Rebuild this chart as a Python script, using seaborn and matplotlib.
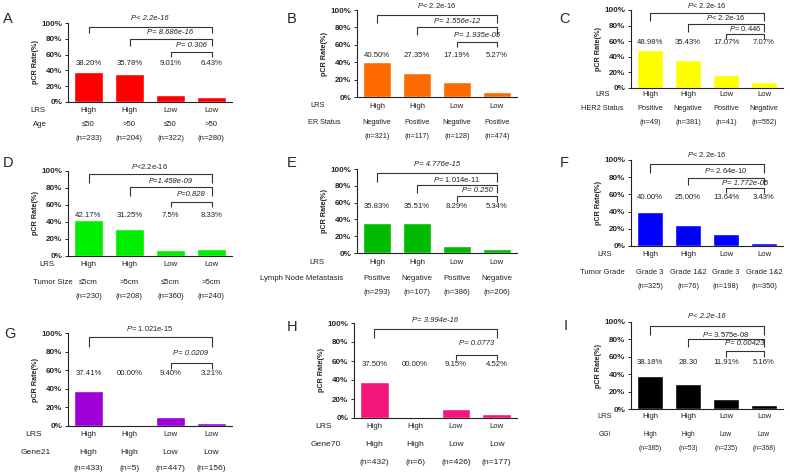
import matplotlib
matplotlib.use("Agg")
import matplotlib.pyplot as plt
import seaborn as sns
import pandas as pd

# ---- data ----
lrs = ["High", "High", "Low", "Low"]

age_rate = [38.20, 35.78, 9.01, 6.43]
age_text = ["38.20%", "35.78%", "9.01%", "6.43%"]
age_group = ["≤50", ">50", "≤50", ">50"]
age_n = ["(n=233)", "(n=204)", "(n=322)", "(n=280)"]
age_p = ["P< 2.2e-16", "P= 8.686e-16", "P= 0.306"]

er_rate = [40.50, 27.35, 17.19, 5.27]
er_text = ["40.50%", "27.35%", "17.19%", "5.27%"]
er_group = ["Negative", "Positive", "Negative", "Positive"]
er_n = ["(n=321)", "(n=117)", "(n=128)", "(n=474)"]
er_p = ["P< 2.2e-16", "P= 1.556e-12", "P= 1.935e-05"]

her2_rate = [48.98, 35.43, 17.07, 7.07]
her2_text = ["48.98%", "35.43%", "17.07%", "7.07%"]
her2_group = ["Positive", "Negative", "Positive", "Negative"]
her2_n = ["(n=49)", "(n=381)", "(n=41)", "(n=552)"]
her2_p = ["P< 2.2e-16", "P< 2.2e-16", "P= 0.446"]

size_rate = [42.17, 31.25, 7.5, 8.33]
size_text = ["42.17%", "31.25%", "7.5%", "8.33%"]
size_group = ["≤5cm", ">5cm", "≤5cm", ">5cm"]
size_n = ["(n=230)", "(n=208)", "(n=360)", "(n=240)"]
size_p = ["P<2.2e-16", "P=1.458e-09", "P=0.828"]

lnm_rate = [35.83, 35.51, 8.29, 5.34]
lnm_text = ["35.83%", "35.51%", "8.29%", "5.34%"]
lnm_group = ["Positive", "Negative", "Positive", "Negative"]
lnm_n = ["(n=293)", "(n=107)", "(n=386)", "(n=206)"]
lnm_p = ["P= 4.776e-15", "P= 1.014e-11", "P= 0.250"]

grade_rate = [40.00, 25.00, 13.64, 3.43]
grade_text = ["40.00%", "25.00%", "13.64%", "3.43%"]
grade_group = ["Grade 3", "Grade 1&2", "Grade 3", "Grade 1&2"]
grade_n = ["(n=325)", "(n=76)", "(n=198)", "(n=350)"]
grade_p = ["P< 2.2e-16", "P= 2.64e-10", "P= 1.772e-05"]

g21_rate = [37.41, 0.0, 9.40, 3.21]
g21_text = ["37.41%", "00.00%", "9.40%", "3.21%"]
g21_group = ["High", "High", "Low", "Low"]
g21_n = ["(n=433)", "(n=5)", "(n=447)", "(n=156)"]
g21_p = ["P= 1.021e-15", None, "P= 0.0209"]

g70_rate = [37.50, 0.0, 9.15, 4.52]
g70_text = ["37.50%", "00.00%", "9.15%", "4.52%"]
g70_group = ["High", "High", "Low", "Low"]
g70_n = ["(n=432)", "(n=6)", "(n=426)", "(n=177)"]
g70_p = ["P= 3.994e-16", None, "P= 0.0773"]

ggi_rate = [38.18, 28.30, 11.91, 5.16]
ggi_text = ["38.18%", "28.30", "11.91%", "5.16%"]
ggi_group = ["High", "High", "Low", "Low"]
ggi_n = ["(n=385)", "(n=53)", "(n=235)", "(n=368)"]
ggi_p = ["P< 2.2e-16", "P= 3.575e-08", "P= 0.00423"]

panels = [
    ("A", "Age", age_rate, age_text, age_group, age_n, age_p),
    ("B", "ER Status", er_rate, er_text, er_group, er_n, er_p),
    ("C", "HER2 Status", her2_rate, her2_text, her2_group, her2_n, her2_p),
    ("D", "Tumor Size", size_rate, size_text, size_group, size_n, size_p),
    ("E", "Lymph Node Metastasis", lnm_rate, lnm_text, lnm_group, lnm_n, lnm_p),
    ("F", "Tumor Grade", grade_rate, grade_text, grade_group, grade_n, grade_p),
    ("G", "Gene21", g21_rate, g21_text, g21_group, g21_n, g21_p),
    ("H", "Gene70", g70_rate, g70_text, g70_group, g70_n, g70_p),
    ("I", "GGI", ggi_rate, ggi_text, ggi_group, ggi_n, ggi_p),
]

# ---- layout (pixels) ----
W, H = 790, 474
layout = {
    # box = axes x0, x1, y(0%), y(100%); pct = height of % labels;
    # lab = x of "LRS" / variable label; rows = px below axis; fs = row font
    "A": dict(box=(68, 232, 102, 23), color="#ff0000", pct=49, letter=(8, 19),
              lab=(38, 40), rows=(8, 23, 36), fs=5.6,
              br=[(95, 87, 106), (80, 71, 88), (63, 57, 72)], it=["all", "all", "all"]),
    "B": dict(box=(357, 517, 97, 10), color="#ff6a00", pct=48, letter=(292, 19),
              lab=(318, 324), rows=(9, 26, 40), fs=5.2,
              br=[(94, 85, 105), (80, 71, 87), (63, 58, 71)], it=["p", "all", "all"]),
    "C": dict(box=(631, 783, 88, 10), color="#ffff00", pct=58, letter=(565, 19),
              lab=(603, 602), rows=(6, 21, 35), fs=5.3,
              br=[(96, 86, 106), (82, 72, 90), (69, 63, 76)], it=["p", "p", "p"]),
    "D": dict(box=(68, 232, 256, 171), color="#00ee00", pct=48, letter=(8, 163),
              lab=(47, 53), rows=(9, 26, 41), fs=5.6,
              br=[(96, 86, 105), (81, 71, 88), (64, 58, 72)], it=["p", "all", "all"]),
    "E": dict(box=(357, 517, 253, 169), color="#00bb00", pct=55, letter=(292, 163),
              lab=(317, 302), rows=(9, 25, 39), fs=5.6,
              br=[(95, 85, 105), (81, 71, 87), (68, 61, 74)], it=["all", "p", "all"]),
    "F": dict(box=(631, 783, 246, 160), color="#0000ff", pct=56, letter=(564, 163),
              lab=(605, 602), rows=(8, 26, 40), fs=5.4,
              br=[(95, 85, 106), (79, 71, 88), (67, 62, 73)], it=["p", "p", "all"]),
    "G": dict(box=(68, 232, 426, 333), color="#a000d8", pct=56, letter=(10, 334),
              lab=(34, 36), rows=(9, 27, 42), fs=6.1,
              br=[(96, 85, 105), None, (68, 61, 78)], it=["p", None, "all"]),
    "H": dict(box=(354, 517, 418, 323), color="#f5167a", pct=56, letter=(292, 327),
              lab=(324, 326), rows=(9, 26, 44), fs=6.1,
              br=[(94, 84, 103), None, (66, 61, 78)], it=["all", None, "all"]),
    "I": dict(box=(631, 783, 409, 322), color="#000000", pct=54, letter=(566, 326),
              lab=(605, 605), rows=(8, 26, 40), fs=4.8,
              br=[(95, 85, 106), (80, 71, 86), (67, 60, 75)], it=["all", "p", "all"]),
}
spans = [(0, 3), (1, 3), (2, 3)]

sns.set_style("ticks")
plt.rcParams["font.family"] = ["Liberation Sans", "DejaVu Sans"]
plt.rcParams["mathtext.fontset"] = "custom"
plt.rcParams["mathtext.it"] = "Liberation Sans:italic"
plt.rcParams["mathtext.rm"] = "Liberation Sans"

fig = plt.figure(figsize=(W / 100, H / 100), dpi=100)
fig.patch.set_facecolor("white")


def fx(px):
    return px / W


def fy(py):
    return 1 - py / H


for letter, var, rate, text, group, n, pvals in panels:
    L = layout[letter]
    x0, x1, y0, y100 = L["box"]
    fs = L["fs"]
    ax = fig.add_axes([fx(x0), fy(y0), (x1 - x0) / W, (y0 - y100) / H])
    df = pd.DataFrame({"pos": range(4), "rate": rate})
    sns.barplot(data=df, x="pos", y="rate", color=L["color"], saturation=1,
                width=0.7, ax=ax, errorbar=None)
    ax.set_xlim(-0.5, 3.5)
    ax.set_ylim(0, 100)
    ax.set_yticks([0, 20, 40, 60, 80, 100])
    ax.set_yticklabels(["0%", "20%", "40%", "60%", "80%", "100%"],
                       fontsize=5.8, fontweight="bold")
    ax.tick_params(axis="y", length=2.5, width=0.7, pad=1.5)
    ax.tick_params(axis="x", length=0, labelbottom=False)
    ax.set_xlabel("")
    ax.set_ylabel("pCR Rate(%)", fontsize=5.2, fontweight="bold", labelpad=1.5)
    for s in ["top", "right"]:
        ax.spines[s].set_visible(False)
    for s in ["left", "bottom"]:
        ax.spines[s].set_linewidth(0.8)
        ax.spines[s].set_color("#222222")

    # percentages above bars
    for i, t in enumerate(text):
        ax.text(i, L["pct"], t, ha="center", va="center", fontsize=5.6, color="#222222")

    # rows below the axis
    r1, r2, r3 = L["rows"]
    for i in range(4):
        ax.annotate(lrs[i], xy=(i, 0), xycoords=("data", "axes fraction"),
                    xytext=(0, -r1 * 0.72), textcoords="offset points",
                    ha="center", va="center", fontsize=5.6, color="#222222")
        ax.annotate(group[i], xy=(i, 0), xycoords=("data", "axes fraction"),
                    xytext=(0, -r2 * 0.72), textcoords="offset points",
                    ha="center", va="center", fontsize=fs, color="#222222")
        ax.annotate(n[i], xy=(i, 0), xycoords=("data", "axes fraction"),
                    xytext=(0, -r3 * 0.72), textcoords="offset points",
                    ha="center", va="center", fontsize=fs, color="#222222")
    lx1, lx2 = L["lab"]
    fig.text(fx(lx1), fy(y0 + r1), "LRS", ha="center", va="center",
             fontsize=max(fs, 5.4), color="#222222")
    fig.text(fx(lx2), fy(y0 + r2), var, ha="center", va="center",
             fontsize=fs, color="#222222")

    # significance brackets
    for (a, b), p, hts, mode in zip(spans, pvals, L["br"], L["it"]):
        if p is None:
            continue
        yl, yd, yt = hts
        ax.plot([a, a, b, b], [yd, yl, yl, yd], color="#333333", lw=0.8,
                clip_on=False, solid_capstyle="butt")
        if mode == "p":
            label = "$P$" + p[1:]
            ax.text((a + b) / 2, yt, label, ha="center", va="center",
                    fontsize=5.5, color="#222222")
        else:
            ax.text((a + b) / 2, yt, p, ha="center", va="center",
                    fontsize=5.5, style="italic", color="#222222")

    lx, ly = L["letter"]
    fig.text(fx(lx), fy(ly), letter, ha="center", va="center", fontsize=10.5)

fig.savefig("out.png", dpi=100, facecolor="white")
